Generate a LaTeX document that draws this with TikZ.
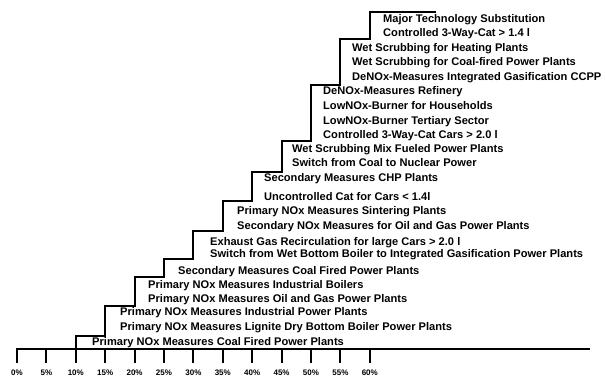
\documentclass[tikz,border=0pt]{standalone}
\usepackage{fontspec}
\setmainfont{Liberation Sans}
\usepackage{tikz}
\usetikzlibrary{calc}

\begin{document}
\begin{tikzpicture}[line cap=rect,line join=miter,
  x=1pt,y=-1pt,   % picture units, y downwards
  lbl/.style={anchor=west,inner sep=0pt,font=\fontsize{11.1}{12}\selectfont\bfseries},
  pct/.style={inner sep=0pt,font=\fontsize{8}{9}\selectfont\bfseries},
  stair/.style={line width=2pt},
  axisline/.style={line width=2.6pt},
  ]
  \def\xo{17}    % 0% position
  \def\dx{5.88}  % pt per percent
  \def\ya{349}   % axis height
  \useasboundingbox (0,0) rectangle (605,379);
  % AXIS
  \draw[axisline] (\xo,\ya) -- (589,\ya);
  \foreach \p in {0,5,...,60}{
    \draw[stair] ({\xo+\dx*\p},\ya) -- ++(0,13);
    \node[pct] (t\p) at ({\xo+\dx*\p},373) {\p\%};
  }
  % staircase
  \draw[stair] ({\xo+\dx*10},\ya)
     |- ({\xo+\dx*15},336) |- ({\xo+\dx*20},306) |- ({\xo+\dx*25},277)
     |- ({\xo+\dx*30},259) |- ({\xo+\dx*35},231) |- ({\xo+\dx*40},201)
     |- ({\xo+\dx*45},172) |- ({\xo+\dx*50},141) |- ({\xo+\dx*55},85)
     |- ({\xo+\dx*60},39)  |- (435,12);
  % measures
  \node[lbl] (m1)  at (383,19.5){Major Technology Substitution};
  \node[lbl] (m2)  at (383,34)  {Controlled 3-Way-Cat > 1.4 l};
  \node[lbl] (m3)  at (352,49)  {Wet Scrubbing for Heating Plants};
  \node[lbl] (m4)  at (352,63)  {Wet Scrubbing for Coal-fired Power Plants};
  \node[lbl] (m5)  at (352,78)  {DeNOx-Measures Integrated Gasification CCPP};
  \node[lbl] (m6)  at (323,92)  {DeNOx-Measures Refinery};
  \node[lbl] (m7)  at (323,106) {LowNOx-Burner for Households};
  \node[lbl] (m8)  at (323,122) {LowNOx-Burner Tertiary Sector};
  \node[lbl] (m9)  at (323,136) {Controlled 3-Way-Cat Cars > 2.0 l};
  \node[lbl] (m10) at (292,150) {Wet Scrubbing Mix Fueled Power Plants};
  \node[lbl] (m11) at (292,163) {Switch from Coal to Nuclear Power};
  \node[lbl] (m12) at (264,179) {Secondary Measures CHP Plants};
  \node[lbl] (m13) at (264,197) {Uncontrolled Cat for Cars < 1.4l};
  \node[lbl] (m14) at (237,212) {Primary NOx Measures Sintering Plants};
  \node[lbl] (m15) at (237,227) {Secondary NOx Measures for Oil and Gas Power Plants};
  \node[lbl] (m16) at (210,243) {Exhaust Gas Recirculation for large Cars > 2.0 l};
  \node[lbl] (m17) at (210,255) {Switch from Wet Bottom Boiler to Integrated Gasification Power Plants};
  \node[lbl] (m18) at (178,272) {Secondary Measures Coal Fired Power Plants};
  \node[lbl] (m19) at (148,286) {Primary NOx Measures Industrial Boilers};
  \node[lbl] (m20) at (148,300) {Primary NOx Measures Oil and Gas Power Plants};
  \node[lbl] (m21) at (120,313) {Primary NOx Measures Industrial Power Plants};
  \node[lbl] (m22) at (120,328) {Primary NOx Measures Lignite Dry Bottom Boiler Power Plants};
  \node[lbl] (m23) at (92,343)  {Primary NOx Measures Coal Fired Power Plants};
\end{tikzpicture}
\end{document}
